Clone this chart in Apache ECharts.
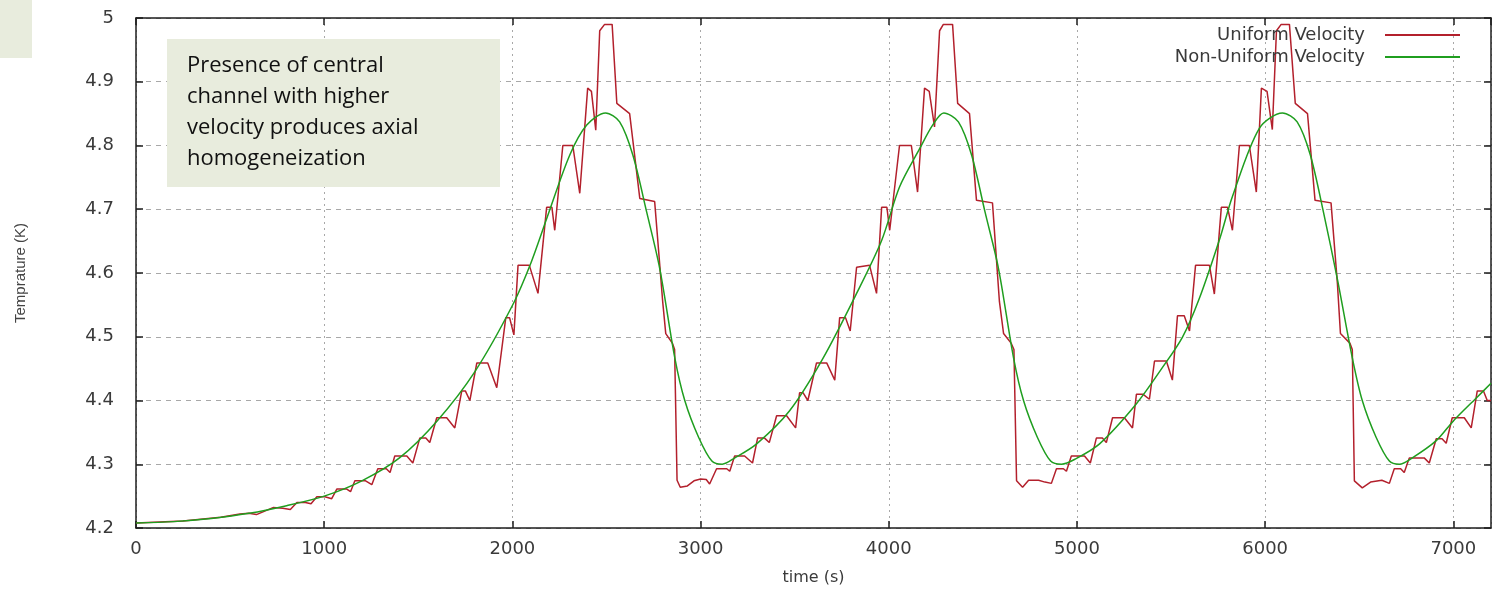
<!DOCTYPE html>
<html>
<head>
    <meta charset="utf-8">
    <title>Temprature</title>
    <script src="https://cdn.jsdelivr.net/npm/echarts@6.0.0/dist/echarts.min.js"></script>
    <style>
        html, body { margin: 0; padding: 0; background: #fff; }
    </style>
</head>
<body>
    <div id="main" style="width: 1498px;height:594px;"></div>
    <script type="text/javascript">
        // values
        var seriesNames = ['Uniform Velocity', 'Non-Uniform Velocity'];

        var uniformTime = [
            0, 250, 450, 552, 600, 640, 728, 780, 820, 855, 900, 930, 961, 1004, 1040, 1067, 1120, 1140,
            1163, 1220, 1253, 1285, 1330, 1350, 1375, 1439, 1471, 1508, 1540, 1561, 1598, 1651, 1694,
            1731, 1750, 1774, 1811, 1869, 1917, 1965, 1985, 2008, 2030, 2090, 2136, 2182, 2210, 2225,
            2268, 2321, 2358, 2400, 2420, 2443, 2464, 2490, 2530, 2555, 2623, 2677, 2756, 2799, 2815,
            2850, 2862, 2875, 2892, 2930, 2965, 3000, 3030, 3048, 3085, 3139, 3155, 3181, 3234, 3276,
            3303, 3340, 3365, 3404, 3457, 3505, 3526, 3545, 3570, 3616, 3670, 3713, 3739, 3770, 3795,
            3829, 3898, 3935, 3962, 3990, 4005, 4057, 4120, 4153, 4190, 4215, 4243, 4270, 4290, 4339,
            4366, 4429, 4466, 4551, 4588, 4610, 4650, 4665, 4679, 4711, 4743, 4796, 4830, 4864, 4891,
            4928, 4944, 4970, 5040, 5071, 5103, 5135, 5156, 5189, 5252, 5295, 5316, 5350, 5385, 5412,
            5475, 5507, 5534, 5570, 5598, 5630, 5704, 5730, 5767, 5800, 5826, 5863, 5916, 5953, 5980,
            6010, 6038, 6060, 6085, 6129, 6160, 6225, 6265, 6350, 6384, 6400, 6450, 6463, 6474, 6516,
            6560, 6620, 6660, 6686, 6720, 6739, 6766, 6845, 6872, 6909, 6940, 6962, 6994, 7058, 7095,
            7127, 7160, 7180, 7200
        ];
        var uniformTemp = [
            4.208, 4.211, 4.217, 4.222, 4.223, 4.221, 4.232, 4.231, 4.229, 4.240, 4.240, 4.238, 4.249, 4.249, 4.246, 4.261, 4.261, 4.257,
            4.274, 4.274, 4.268, 4.293, 4.293, 4.287, 4.313, 4.313, 4.302, 4.341, 4.341, 4.334, 4.373, 4.373, 4.357,
            4.415, 4.415, 4.400, 4.459, 4.459, 4.420, 4.530, 4.530, 4.503, 4.612, 4.612, 4.568, 4.703, 4.703, 4.667,
            4.800, 4.800, 4.725, 4.890, 4.885, 4.824, 4.980, 4.990, 4.990, 4.866, 4.850, 4.717, 4.712, 4.554, 4.505,
            4.490, 4.480, 4.275, 4.264, 4.266, 4.274, 4.277, 4.276, 4.269, 4.293, 4.293, 4.289, 4.313, 4.313, 4.302,
            4.341, 4.341, 4.334, 4.376, 4.376, 4.357, 4.412, 4.412, 4.400, 4.459, 4.459, 4.432, 4.530, 4.530, 4.509,
            4.609, 4.612, 4.568, 4.703, 4.703, 4.667, 4.800, 4.800, 4.727, 4.890, 4.885, 4.829, 4.980, 4.990, 4.990,
            4.866, 4.850, 4.714, 4.710, 4.555, 4.505, 4.490, 4.480, 4.274, 4.264, 4.275, 4.275, 4.272, 4.270, 4.293,
            4.293, 4.289, 4.313, 4.313, 4.302, 4.341, 4.341, 4.334, 4.373, 4.373, 4.357, 4.410, 4.410, 4.402, 4.462,
            4.462, 4.432, 4.533, 4.533, 4.509, 4.612, 4.612, 4.567, 4.703, 4.703, 4.667, 4.800, 4.800, 4.727, 4.890,
            4.885, 4.825, 4.980, 4.990, 4.990, 4.866, 4.850, 4.714, 4.710, 4.583, 4.505, 4.490, 4.480, 4.274, 4.263,
            4.272, 4.275, 4.270, 4.293, 4.293, 4.287, 4.310, 4.310, 4.302, 4.340, 4.340, 4.333, 4.373, 4.373, 4.357,
            4.415, 4.415, 4.400, 4.400
        ];

        var nonUniformTime = [
            0, 200, 400, 600, 800, 1000, 1200, 1400, 1600, 1800, 2000, 2100, 2182, 2305, 2395, 2495, 2570,
            2640, 2714, 2783, 2863, 2916, 2990, 3060, 3115, 3182, 3298, 3473, 3648, 3829, 3962, 4057, 4164,
            4233, 4292, 4370, 4440, 4512, 4583, 4663, 4716, 4790, 4860, 4918, 4990, 5120, 5316, 5450, 5560,
            5650, 5760, 5826, 5969, 6092, 6170, 6240, 6310, 6384, 6463, 6516, 6590, 6660, 6713, 6782, 6909,
            7000, 7122, 7200
        ];
        var nonUniformTemp = [
            4.208, 4.210, 4.215, 4.223, 4.235, 4.250, 4.274, 4.310, 4.368, 4.445, 4.549, 4.617, 4.685, 4.785, 4.832, 4.851, 4.837,
            4.785, 4.695, 4.607, 4.467, 4.400, 4.342, 4.305, 4.300, 4.310, 4.332, 4.384, 4.465, 4.568, 4.651, 4.735, 4.795,
            4.832, 4.851, 4.837, 4.785, 4.695, 4.607, 4.467, 4.400, 4.342, 4.305, 4.300, 4.308, 4.332, 4.395, 4.450, 4.499,
            4.560, 4.655, 4.720, 4.827, 4.851, 4.837, 4.785, 4.695, 4.590, 4.467, 4.400, 4.342, 4.305, 4.300, 4.310, 4.337,
            4.368, 4.404, 4.427
        ];

        var noteLines = [
            'Presence of central',
            'channel with higher',
            'velocity produces axial',
            'homogeneization'
        ];

        function pairs(xs, ys) {
            var out = [];
            for (var i = 0; i < xs.length; i++) {
                out.push([xs[i], ys[i]]);
            }
            return out;
        }

        var chartDom = document.getElementById('main');
        var myChart = echarts.init(chartDom, null, { renderer: 'canvas' });

        var sansFont = '"DejaVu Sans", Verdana, sans-serif';
        var labelStyle = {
            color: '#3a3a3a',
            fontFamily: sansFont,
            fontSize: 18
        };
        var frameLine = { show: true, onZero: false, lineStyle: { color: '#1e1e1e', width: 1.5 } };
        var innerTick = { show: true, inside: true, length: 7, lineStyle: { color: '#1e1e1e', width: 1.5 } };

        var option = {
            animation: false,
            backgroundColor: '#ffffff',
            grid: {
                left: 136,
                right: 7,
                top: 18,
                bottom: 66
            },
            legend: {
                data: seriesNames,
                orient: 'vertical',
                right: 33,
                top: 21,
                align: 'right',
                icon: 'rect',
                itemWidth: 75,
                itemHeight: 2,
                itemGap: 4,
                textStyle: {
                    color: '#3a3a3a',
                    fontFamily: sansFont,
                    fontSize: 18,
                    padding: [0, 15, 0, 0]
                }
            },
            xAxis: [{
                type: 'value',
                position: 'bottom',
                min: 0,
                max: 7200,
                interval: 1000,
                name: 'time (s)',
                nameLocation: 'middle',
                nameGap: 42,
                nameTextStyle: {
                    color: '#3a3a3a',
                    fontFamily: sansFont,
                    fontSize: 16
                },
                axisLine: frameLine,
                axisTick: innerTick,
                axisLabel: Object.assign({
                    margin: 12,
                    showMaxLabel: false,
                    formatter: function (v) { return String(v); }
                }, labelStyle),
                splitLine: {
                    show: true,
                    lineStyle: { color: '#a8a8a8', type: [2, 4], width: 1 }
                }
            }, {
                type: 'value',
                position: 'top',
                min: 0,
                max: 7200,
                interval: 1000,
                axisLine: frameLine,
                axisTick: innerTick,
                axisLabel: { show: false },
                splitLine: { show: false }
            }],
            yAxis: [{
                type: 'value',
                position: 'left',
                min: 4.2,
                max: 5,
                interval: 0.1,
                name: 'Temprature (K)',
                nameLocation: 'middle',
                nameGap: 108,
                nameTextStyle: {
                    color: '#444',
                    fontFamily: '"Liberation Sans", Arial, sans-serif',
                    fontSize: 15
                },
                axisLine: frameLine,
                axisTick: innerTick,
                axisLabel: Object.assign({ margin: 22 }, labelStyle),
                splitLine: {
                    show: true,
                    lineStyle: { color: '#a8a8a8', type: [5, 5], width: 1 }
                }
            }, {
                type: 'value',
                position: 'right',
                min: 4.2,
                max: 5,
                interval: 0.1,
                axisLine: frameLine,
                axisTick: innerTick,
                axisLabel: { show: false },
                splitLine: { show: false }
            }],
            series: [{
                name: seriesNames[0],
                type: 'line',
                xAxisIndex: 0,
                yAxisIndex: 0,
                showSymbol: false,
                data: pairs(uniformTime, uniformTemp),
                lineStyle: { color: '#b3202c', width: 1.5 },
                itemStyle: { color: '#b3202c' },
                z: 3
            }, {
                name: seriesNames[1],
                type: 'line',
                xAxisIndex: 0,
                yAxisIndex: 0,
                showSymbol: false,
                smooth: 0.3,
                data: pairs(nonUniformTime, nonUniformTemp),
                lineStyle: { color: '#1f9e1f', width: 1.5 },
                itemStyle: { color: '#1f9e1f' },
                z: 4
            }],
            graphic: [{
                type: 'rect',
                left: 0,
                top: 0,
                shape: { width: 32, height: 58 },
                style: { fill: '#e8ecdd' },
                z: 100
            }, {
                type: 'rect',
                left: 167,
                top: 39,
                shape: { width: 333, height: 148 },
                style: { fill: '#e8ecdd' },
                z: 100
            }, {
                type: 'text',
                left: 187,
                top: 50,
                style: {
                    text: noteLines.join('\n'),
                    fill: '#111',
                    font: '22px "Open Sans"',
                    lineHeight: 31
                },
                z: 101
            }]
        };

        option && myChart.setOption(option);
    </script>
</body>
</html>
